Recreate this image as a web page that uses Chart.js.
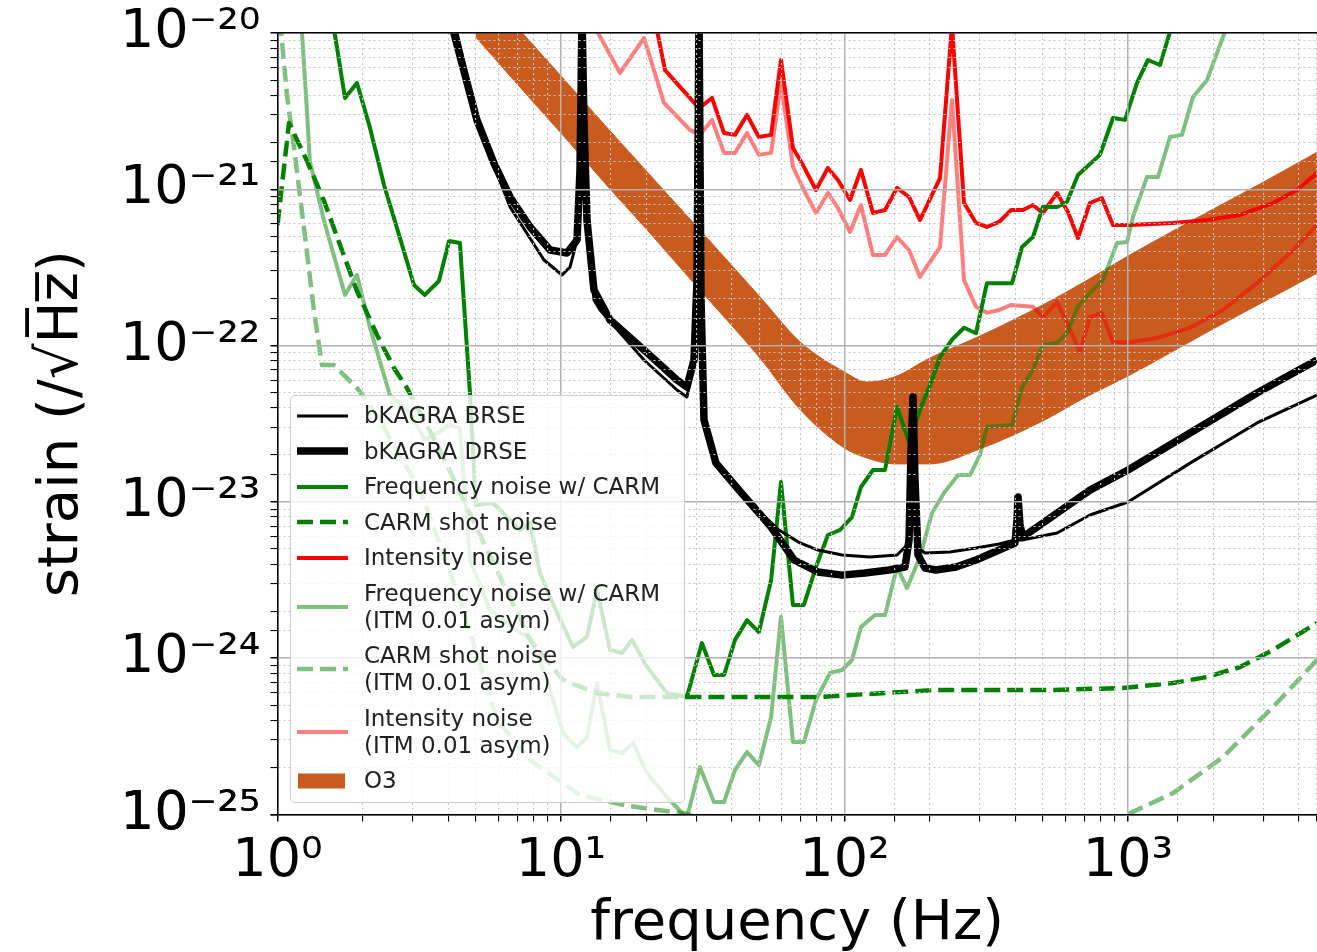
<!DOCTYPE html>
<html>
<head>
<meta charset="utf-8">
<script src="https://cdn.jsdelivr.net/npm/chart.js@4"></script>
<style>
html, body { margin:0; padding:0; background:#fff; overflow:hidden; }
#wrap { position:relative; width:1317px; height:952px; overflow:hidden; }
#legend { position:absolute; left:290px; top:395px; width:395px; height:408px; box-sizing:border-box;
  background:rgba(255,255,255,0.8); border:1px solid #cccccc; border-radius:5px; padding-top:2px;
  font-family:"DejaVu Sans"; font-size:23px; color:#222; }
.item { display:flex; align-items:center; padding:4.25px 0; line-height:27px; white-space:nowrap; }
.item svg { flex:none; margin-left:6px; margin-right:16px; }
</style>
</head>
<body>
<div id="wrap">
<canvas id="c" width="1325" height="952"></canvas>
<div id="legend"></div>
</div>
<script>
// values: frequency in Hz, strain in 1/sqrt(Hz)
var brseFreq = [4.18, 4.30, 5.18, 6.61, 8.71, 10.08, 10.76, 11.39, 11.67, 11.86, 12.05, 12.35, 13.07, 13.73, 19.63, 25.66, 27.8, 29.45, 30.18, 30.68, 31.18, 31.95, 35.22, 42.45, 50.3, 58.7, 69.7, 80.6, 98.0, 123, 153.2, 166.2, 171.7, 174.5, 177.3, 181.7, 192.3, 235.6, 291, 351, 399.4, 423, 562, 734, 1000, 1655, 2851, 4642];
var brseStrain = [1.4e-20, 1.0e-20, 2.40e-21, 7.70e-22, 3.53e-22, 2.83e-22, 3.18e-22, 4.74e-22, 1.33e-21, 1.30e-20, 2.78e-21, 5.91e-22, 1.96e-22, 1.69e-22, 8.09e-23, 5.20e-23, 4.69e-23, 7.51e-23, 2.44e-22, 1.30e-20, 1.82e-22, 3.10e-23, 1.85e-23, 1.23e-23, 8.62e-24, 6.61e-24, 5.46e-24, 4.92e-24, 4.57e-24, 4.44e-24, 4.57e-24, 5.30e-24, 1.85e-23, 3.87e-23, 1.19e-23, 5.07e-24, 4.71e-24, 4.78e-24, 5.07e-24, 5.38e-24, 5.70e-24, 5.70e-24, 6.32e-24, 8.25e-24, 9.99e-24, 1.77e-23, 3.20e-23, 4.83e-23];

var drseFreq = [4.13, 4.19, 5.05, 5.80, 6.61, 7.78, 9.15, 10.50, 11.39, 11.67, 11.86, 12.05, 12.35, 13.07, 14.89, 19.63, 25.66, 27.8, 29.45, 30.18, 30.68, 31.18, 31.95, 35.22, 42.45, 55.1, 66.35, 80.6, 98.0, 118.1, 143.6, 163.5, 168.9, 171.7, 174.5, 177.3, 181.7, 192.3, 210, 247.4, 291, 351, 399.4, 406, 409.3, 416, 426, 734, 1000, 1655, 2851, 4642];
var drseStrain = [1.21e-20, 1.0e-20, 2.78e-21, 1.47e-21, 8.93e-22, 5.74e-22, 4.09e-22, 3.91e-22, 4.74e-22, 1.33e-21, 1.30e-20, 2.78e-21, 6.36e-22, 2.27e-22, 1.46e-22, 9.37e-23, 6.03e-23, 5.43e-23, 8.09e-23, 2.63e-22, 1.30e-20, 1.96e-22, 3.34e-23, 1.77e-23, 1.19e-23, 6.91e-24, 4.25e-24, 3.56e-24, 3.40e-24, 3.51e-24, 3.67e-24, 3.83e-24, 5.70e-24, 2.15e-23, 4.69e-23, 1.38e-23, 4.57e-24, 3.78e-24, 3.67e-24, 3.83e-24, 4.25e-24, 4.92e-24, 5.46e-24, 7.66e-24, 1.075e-23, 7.11e-24, 5.96e-24, 1.19e-23, 1.60e-23, 2.76e-23, 4.97e-23, 8.09e-23];

var freqCarmFreq = [1.51, 1.58, 1.73, 1.907, 2.12, 2.375, 2.64, 3.03, 3.31, 3.71, 4.03, 4.40, 4.78, 5.01, 5.76, 7.17, 7.78, 8.43, 9.68, 11.03, 12.35, 13.40, 14.89, 16.41, 17.80, 20.11, 23.65, 27.8, 31.4, 34.65, 37.6, 41.1, 45.3, 49.9, 55.1, 59.7, 65.8, 71.9, 79.3, 87.4, 96.4, 106.3, 114.3, 126.0, 139.0, 153.2, 168.9, 184.6, 203.5, 217.2, 239.4, 264, 291, 318, 390, 423, 462, 501, 562, 609, 666, 796, 885, 976, 1076, 1176, 1297, 1430, 1525];
var freqCarmStrain = [1.63e-20, 1.08e-20, 3.84e-21, 4.79e-21, 2.47e-21, 1.065e-21, 5.65e-22, 2.44e-22, 2.11e-22, 2.59e-22, 4.67e-22, 4.53e-22, 4.83e-23, 9.55e-24, 9.84e-24, 6.61e-24, 7.33e-24, 3.51e-24, 1.95e-24, 1.18e-24, 1.37e-24, 2.73e-24, 1.13e-24, 1.08e-24, 1.31e-24, 8.79e-25, 5.99e-25, 5.65e-25, 1.25e-24, 7.81e-25, 7.81e-25, 1.31e-24, 1.75e-24, 1.47e-24, 3.16e-24, 1.34e-23, 2.19e-24, 2.19e-24, 3.83e-24, 6.14e-24, 6.61e-24, 8.00e-24, 1.245e-23, 1.60e-23, 1.60e-23, 4.05e-23, 2.42e-23, 3.87e-23, 6.03e-23, 8.45e-23, 1.09e-22, 1.30e-22, 1.20e-22, 2.51e-22, 2.51e-22, 4.28e-22, 4.95e-22, 7.71e-22, 7.71e-22, 8.29e-22, 1.235e-21, 1.66e-21, 2.86e-21, 2.78e-21, 4.79e-21, 6.72e-21, 6.24e-21, 1.125e-20, 1.51e-20];

var carmShotFreq = [1.0, 1.098, 1.27, 1.46, 1.662, 1.907, 2.244, 2.576, 2.862, 3.74, 5.18, 7.78, 10.16, 13.40, 17.52, 30.9, 80.6, 210, 548, 960, 1441, 1900, 2484, 3248, 4642];
var carmShotStrain = [5.9e-22, 2.66e-21, 1.52e-21, 8.41e-22, 4.40e-22, 2.235e-22, 1.17e-22, 7.19e-23, 5.36e-23, 2.15e-23, 6.14e-24, 1.31e-24, 7.26e-25, 5.99e-25, 5.65e-25, 5.65e-25, 5.65e-25, 6.26e-25, 6.26e-25, 6.45e-25, 6.94e-25, 7.58e-25, 8.78e-25, 1.13e-24, 1.68e-24];

var intensityFreq = [21.1, 23.27, 25.03, 30.68, 34.09, 37.6, 41.1, 45.3, 49.9, 55.1, 59.7, 65.8, 70.8, 79.3, 87.4, 94.8, 104.6, 114.3, 126, 139, 153.2, 168.9, 184.6, 217.2, 239.4, 264, 291, 318, 351, 387, 426, 462, 501, 562, 614, 666, 734, 809, 885, 1017, 1441, 1900, 2484, 3248, 3946, 4642];
var intensityStrain = [1.40e-20, 5.80e-21, 5.00e-21, 3.31e-21, 3.84e-21, 2.29e-21, 2.23e-21, 2.99e-21, 2.16e-21, 2.23e-21, 6.72e-21, 1.84e-21, 1.47e-21, 9.90e-22, 1.37e-21, 1.147e-21, 8.54e-22, 1.33e-21, 7.05e-22, 7.37e-22, 1.02e-21, 8.93e-22, 6.36e-22, 1.18e-21, 1.125e-20, 8.17e-22, 6.09e-22, 5.74e-22, 6.18e-22, 7.37e-22, 7.37e-22, 7.93e-22, 7.05e-22, 9.47e-22, 7.16e-22, 4.88e-22, 8.17e-22, 8.80e-22, 5.91e-22, 5.91e-22, 6.09e-22, 6.36e-22, 6.85e-22, 8.17e-22, 9.90e-22, 1.27e-21];

var freqCarmItmFreq = [1.20, 1.27, 1.30, 1.46, 1.73, 1.907, 2.12, 2.49, 2.93, 3.31, 3.71, 4.03, 4.40, 4.78, 5.62, 7.17, 7.78, 8.93, 10.16, 11.39, 12.35, 13.40, 14.89, 16.41, 17.95, 20.11, 23.65, 27.8, 30.9, 34.65, 37.6, 41.1, 45.3, 49.9, 55.1, 59.7, 65.8, 71.9, 79.3, 88.9, 98.0, 106.3, 114.3, 128.1, 139.0, 153.2, 166.2, 184.6, 203.5, 224.4, 251.4, 277.2, 300.6, 318, 390, 423, 462, 501, 562, 609, 666, 734, 816, 915, 992, 1041, 1167, 1276, 1407, 1550, 1696, 1900, 2163, 2328];
var freqCarmItmStrain = [1.63e-20, 3.17e-21, 1.52e-21, 6.27e-22, 2.11e-22, 2.83e-22, 1.30e-22, 4.83e-23, 3.76e-23, 2.49e-23, 2.80e-23, 3.10e-23, 2.97e-23, 4.25e-24, 2.03e-24, 1.45e-24, 1.37e-24, 7.26e-25, 3.32e-25, 2.70e-25, 3.13e-25, 6.94e-25, 2.59e-25, 2.47e-25, 2.87e-25, 1.84e-25, 1.29e-25, 9.5e-26, 2.01e-25, 1.20e-25, 1.20e-25, 1.93e-25, 2.51e-25, 2.07e-25, 4.21e-25, 1.84e-24, 2.91e-25, 2.91e-25, 5.40e-25, 8.04e-25, 8.40e-25, 9.74e-25, 1.585e-24, 1.89e-24, 1.89e-24, 3.83e-24, 2.81e-24, 4.44e-24, 8.49e-24, 1.14e-23, 1.486e-23, 1.486e-23, 2.00e-23, 3.01e-23, 3.10e-23, 5.43e-23, 6.98e-23, 1.01e-22, 1.04e-22, 1.205e-22, 1.77e-22, 2.17e-22, 2.63e-22, 4.53e-22, 4.60e-22, 6.65e-22, 1.20e-21, 1.20e-21, 2.16e-21, 2.23e-21, 3.90e-21, 5.00e-21, 9.43e-21, 1.30e-20];

var carmShotItmFreq = [1.02, 1.037, 1.080, 1.144, 1.24, 1.345, 1.435, 1.58, 1.907, 2.07, 2.30, 3.18, 4.40, 5.95, 7.78, 11.67, 17.52, 27.8, 36.4, 157, 796, 1041, 1441, 2163, 3248, 4642];
var carmShotItmStrain = [1.21e-20, 8.89e-21, 4.01e-21, 1.84e-21, 5.65e-22, 1.665e-22, 7.51e-23, 7.51e-23, 5.36e-23, 4.42e-23, 3.29e-23, 1.19e-23, 2.36e-24, 4.02e-25, 2.23e-25, 1.33e-25, 1.13e-25, 1.01e-25, 7.96e-26, 6.87e-26, 7.96e-26, 1.04e-25, 1.37e-25, 2.33e-25, 4.88e-25, 9.74e-25];

var intensityItmFreq = [12.45, 13.95, 16.15, 19.63, 23.08, 28.5, 30.9, 34.09, 37.6, 41.1, 45.3, 49.9, 55.1, 59.7, 65.8, 71.9, 79.3, 87.4, 94.8, 104.6, 114.3, 126, 139, 153.2, 168.9, 184.6, 217.2, 239.4, 264, 291, 318, 351, 387, 462, 501, 562, 614, 677, 734, 809, 885, 1017, 1266, 1655, 2163, 2851, 3727, 4642];
var intensityItmStrain = [1.30e-20, 9.02e-21, 5.55e-21, 9.29e-21, 3.57e-21, 2.40e-21, 2.23e-21, 2.78e-21, 1.71e-21, 1.71e-21, 2.29e-21, 1.66e-21, 1.71e-21, 4.79e-21, 1.39e-21, 9.90e-22, 7.05e-22, 9.47e-22, 7.59e-22, 5.33e-22, 7.93e-22, 3.80e-22, 3.80e-22, 4.95e-22, 4.09e-22, 2.75e-22, 4.27e-22, 3.73e-21, 2.63e-22, 1.77e-22, 1.62e-22, 1.69e-22, 1.82e-22, 1.77e-22, 1.52e-22, 1.90e-22, 1.35e-22, 9.10e-23, 1.52e-22, 1.62e-22, 1.05e-22, 1.05e-22, 1.12e-22, 1.30e-22, 1.69e-22, 2.51e-22, 3.91e-22, 5.91e-22];

var o3Freq = [5, 7, 10, 15, 20, 30, 50, 70, 100, 120, 150, 200, 300, 500, 700, 1000, 2000, 3000, 4650];
var o3Upper = [2.12e-20, 1.09e-20, 5.31e-21, 2.33e-21, 1.31e-21, 5.82e-22, 2.08e-22, 1.05e-22, 6.78e-23, 5.85e-23, 6.30e-23, 8.33e-23, 1.15e-22, 1.82e-22, 2.55e-22, 3.74e-22, 7.48e-22, 1.11e-21, 1.73e-21];
var o3Lower = [9.43e-21, 4.72e-21, 2.29e-21, 9.90e-22, 5.57e-22, 2.41e-22, 8.45e-23, 3.87e-23, 2.21e-23, 1.91e-23, 1.75e-23, 1.75e-23, 2.18e-23, 3.29e-23, 4.62e-23, 6.39e-23, 1.28e-22, 1.90e-22, 2.91e-22];

var freqRange = [1, 4642];
var strainRange = [1e-25, 1e-20];

var GREEN = '#008000', GREEN_LT = 'rgba(0,128,0,0.5)';
var RED = '#ff0000', RED_LT = 'rgba(255,0,0,0.5)';
var O3_COLOR = '#c95b1f';
var DASH = [16, 7];

function pts(fs, ss) {
  return fs.map(function(f, i) { return {x: f, y: ss[i]}; });
}

function line(key, label, fs, ss, color, width, dash) {
  return {
    key: key, label: label, data: pts(fs, ss),
    borderColor: color, backgroundColor: color, borderWidth: width,
    borderDash: dash || [], pointRadius: 0, pointHoverRadius: 0,
    fill: false, tension: 0, borderJoinStyle: 'round', borderCapStyle: 'butt'
  };
}

var sup = {'0':'\u2070','1':'\u00b9','2':'\u00b2','3':'\u00b3','4':'\u2074','5':'\u2075','6':'\u2076','7':'\u2077','8':'\u2078','9':'\u2079','-':'\u207b'};
function isPow10(v) {
  var e = Math.round(Math.log10(v));
  return Math.abs(v / Math.pow(10, e) - 1) < 1e-6;
}
function powLabel(v) {
  if (!isPow10(v)) return '';
  var e = String(Math.round(Math.log10(v)));
  return '10' + e.split('').map(function(ch) { return sup[ch]; }).join('');
}
function major(c) { return c.tick && isPow10(c.tick.value); }

var gridOpts = {
  z: 1,
  color: function(c) { return major(c) ? '#b0b0b0' : '#c6c6c6'; },
  lineWidth: function(c) { return major(c) ? 1.5 : 1.1; },
  tickColor: '#000',
  tickWidth: function(c) { return major(c) ? 1.5 : 1.1; },
  tickLength: 7
};
var borderOpts = {
  z: 2, color: '#000', width: 1.5,
  dash: function(c) { return (!c.tick || major(c)) ? [] : [2, 3]; }
};

Chart.defaults.font.family = 'DejaVu Sans';
Chart.defaults.color = '#000';

var datasets = [
  line('drse', 'bKAGRA DRSE', drseFreq, drseStrain, '#000', 7.5),
  line('brse', 'bKAGRA BRSE', brseFreq, brseStrain, '#000', 3),
  line('freq', 'Frequency noise w/ CARM', freqCarmFreq, freqCarmStrain, GREEN, 4),
  line('shot', 'CARM shot noise', carmShotFreq, carmShotStrain, GREEN, 4.5, DASH),
  line('freqItm', 'Frequency noise w/ CARM (ITM 0.01 asym)', freqCarmItmFreq, freqCarmItmStrain, GREEN_LT, 4),
  line('shotItm', 'CARM shot noise (ITM 0.01 asym)', carmShotItmFreq, carmShotItmStrain, GREEN_LT, 4.5, DASH),
  line('int', 'Intensity noise', intensityFreq, intensityStrain, RED, 4),
  line('intItm', 'Intensity noise (ITM 0.01 asym)', intensityItmFreq, intensityItmStrain, RED_LT, 4),
  {key: 'o3', label: 'O3', data: pts(o3Freq, o3Upper), borderColor: O3_COLOR, backgroundColor: O3_COLOR,
   borderWidth: 1, pointRadius: 0, fill: '+1', cubicInterpolationMode: 'monotone'},
  {key: 'o3low', label: 'O3 lower', data: pts(o3Freq, o3Lower), borderColor: O3_COLOR, backgroundColor: O3_COLOR,
   borderWidth: 1, pointRadius: 0, fill: false, cubicInterpolationMode: 'monotone'}
];

var chart = new Chart(document.getElementById('c'), {
  type: 'line',
  data: {datasets: datasets},
  options: {
    responsive: false,
    animation: false,
    events: [],
    layout: {padding: {top: 33, left: 0, right: 0, bottom: 0}},
    plugins: {legend: {display: false}, tooltip: {enabled: false}},
    scales: {
      x: {
        type: 'logarithmic', min: freqRange[0], max: freqRange[1],
        afterFit: function(s) { s.height = 137.5; },
        ticks: {autoSkip: false, maxRotation: 0, minRotation: 0, padding: 8, color: '#000',
                font: {size: 54}, callback: function(v) { return powLabel(v); }},
        grid: gridOpts,
        border: borderOpts,
        title: {display: true, text: 'frequency (Hz)', color: '#000', font: {size: 56},
                padding: {top: 0, bottom: -6}}
      },
      xTop: {
        type: 'logarithmic', position: 'top', min: freqRange[0], max: freqRange[1],
        afterFit: function(s) { s.height = 0; },
        ticks: {display: false},
        grid: {display: false, drawTicks: false},
        border: {display: true, color: '#000', width: 1.5, z: 2}
      },
      y: {
        type: 'logarithmic', min: strainRange[0], max: strainRange[1],
        afterFit: function(s) { s.width = 277.5; },
        ticks: {autoSkip: false, padding: 10, color: '#000', font: {size: 54, lineHeight: 0.8},
                callback: function(v) { return powLabel(v); }},
        grid: gridOpts,
        border: borderOpts,
        title: {display: true, text: 'strain (/\u221aH\u0305z\u0305)', color: '#000', font: {size: 56},
                padding: {top: 29, bottom: 0}}
      }
    }
  }
});

// legend drawn as html over the plot, in the order of the original figure
var legendOrder = [
  ['brse', ['bKAGRA BRSE']],
  ['drse', ['bKAGRA DRSE']],
  ['freq', ['Frequency noise w/ CARM']],
  ['shot', ['CARM shot noise']],
  ['int', ['Intensity noise']],
  ['freqItm', ['Frequency noise w/ CARM', '(ITM 0.01 asym)']],
  ['shotItm', ['CARM shot noise', '(ITM 0.01 asym)']],
  ['intItm', ['Intensity noise', '(ITM 0.01 asym)']],
  ['o3', ['O3']]
];
var legendEl = document.getElementById('legend');
legendOrder.forEach(function(entry) {
  var ds = chart.data.datasets.filter(function(d) { return d.key === entry[0]; })[0];
  var item = document.createElement('div');
  item.className = 'item';
  var svg;
  if (ds.key === 'o3') {
    svg = '<svg width="51" height="20"><rect x="1" y="2.5" width="47" height="15" fill="' + ds.backgroundColor + '"/></svg>';
  } else {
    svg = '<svg width="51" height="20"><line x1="0" y1="10" x2="51" y2="10" stroke="' + ds.borderColor +
      '" stroke-width="' + ds.borderWidth + '" stroke-dasharray="' + (ds.borderDash.length ? ds.borderDash.join(',') : 'none') + '"/></svg>';
  }
  item.innerHTML = svg + '<span>' + entry[1].join('<br>') + '</span>';
  legendEl.appendChild(item);
});
</script>
</body>
</html>
